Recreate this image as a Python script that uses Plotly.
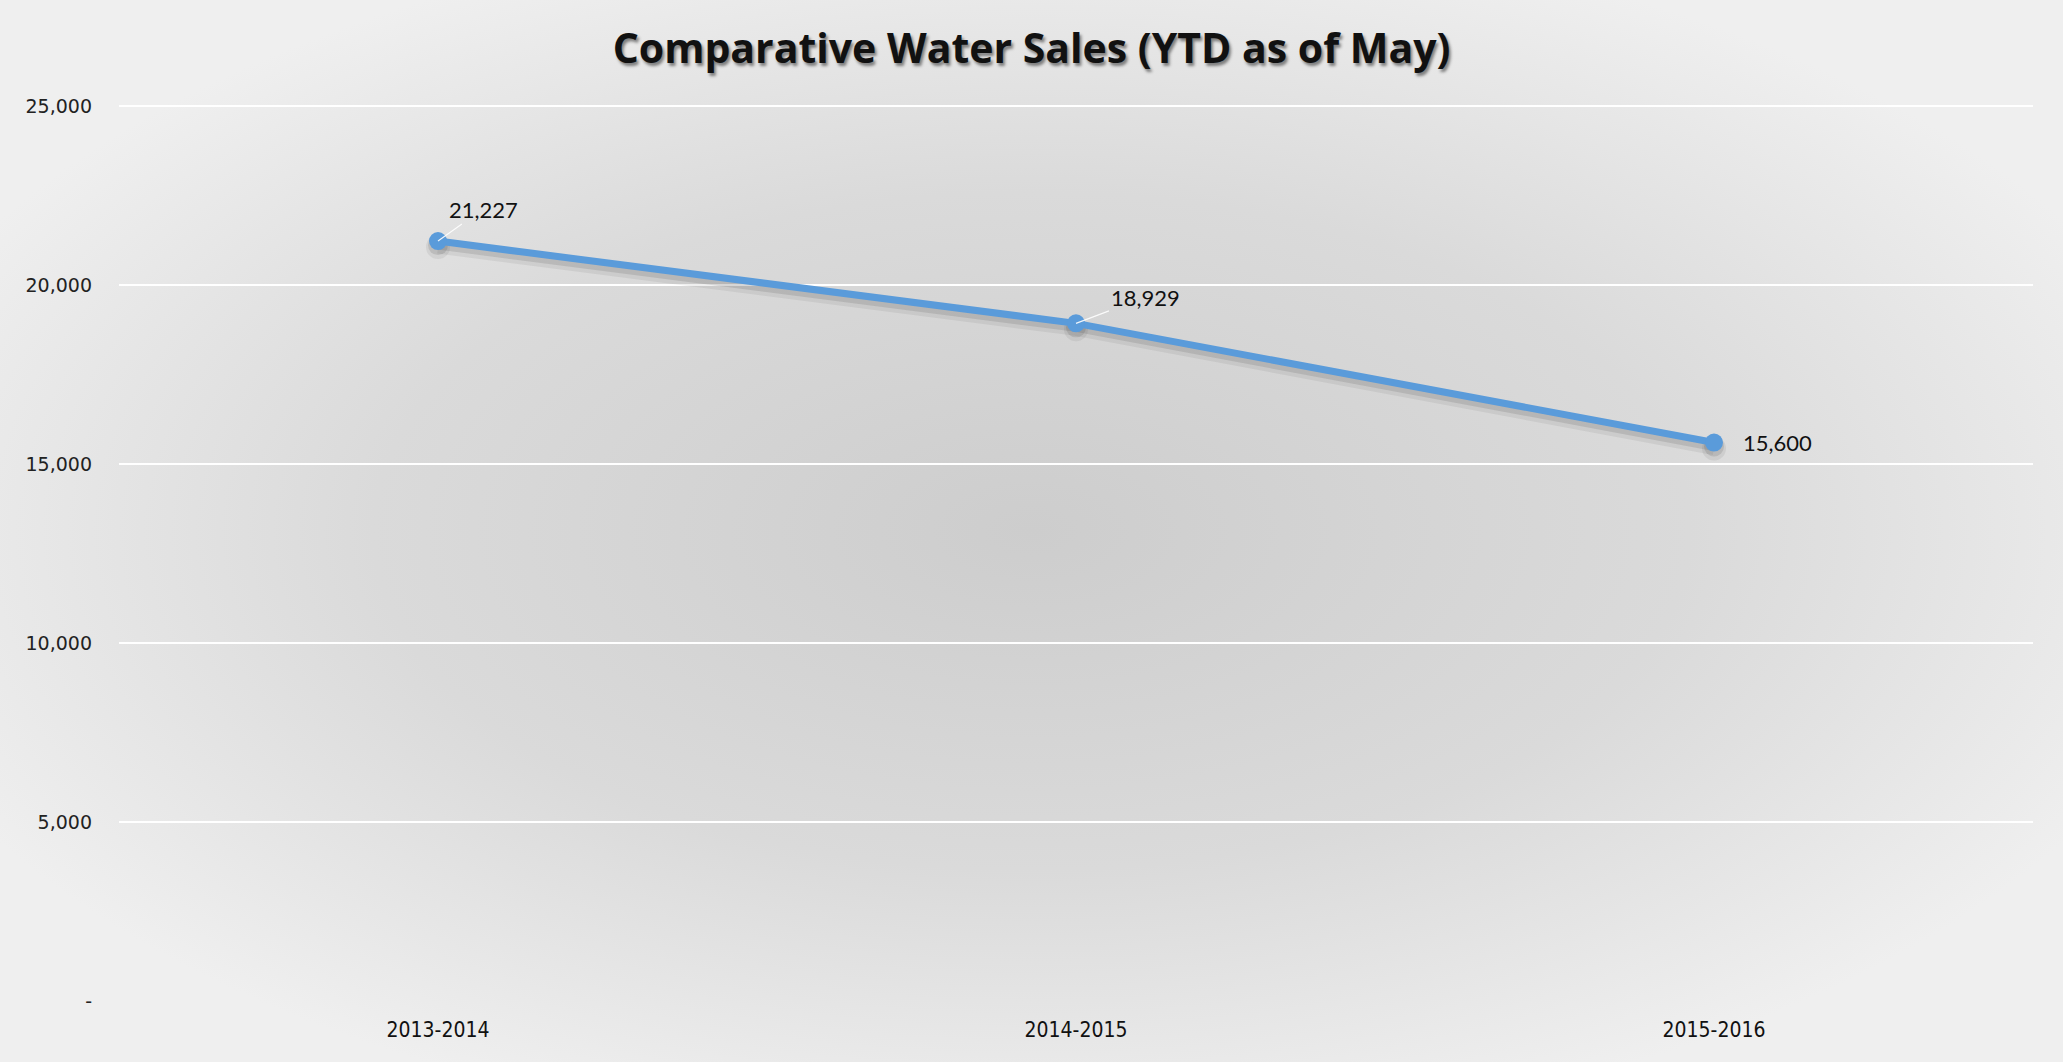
import base64
import plotly.graph_objects as go

# Water sales, year-to-date through May
seasons = ["2013-2014", "2014-2015", "2015-2016"]
sales = [21227, 18929, 15600]

y_tick_vals = [0, 5000, 10000, 15000, 20000, 25000]
y_tick_text = ["-", "5,000", "10,000", "15,000", "20,000", "25,000"]

W, H = 2063, 1062
M_L, M_R, M_T, M_B = 119, 30, 101, 61
plot_w = W - M_L - M_R
plot_h = H - M_T - M_B
Y_MAX = 25000
# leave 5px of headroom above the top tick so its gridline is drawn
Y_TOP = Y_MAX * plot_h / (plot_h - 5)

LINE_BLUE = "#5A9BDA"

# Soft radial grey backdrop behind the whole chart
svg = (
    "<svg xmlns='http://www.w3.org/2000/svg' width='2063' height='1062' "
    "preserveAspectRatio='none' viewBox='0 0 2063 1062'>"
    "<defs><radialGradient id='g' cx='50%' cy='50%' r='58%'>"
    "<stop offset='0' stop-color='#cdcdcd'/>"
    "<stop offset='0.55' stop-color='#dadada'/>"
    "<stop offset='1' stop-color='#efefef'/>"
    "</radialGradient></defs>"
    "<rect x='0' y='0' width='2063' height='1062' fill='url(#g)'/></svg>"
)
bg_uri = "data:image/svg+xml;base64," + base64.b64encode(svg.encode()).decode()

fig = go.Figure()

# Invisible copy on the base axes so the value axis and its grid are drawn
fig.add_trace(go.Scatter(
    x=seasons, y=sales, mode="lines",
    line=dict(color="rgba(0,0,0,0)", width=1),
    hoverinfo="skip", showlegend=False,
))

# Drop shadow for the line: same values on axes shifted a few pixels down
shadow_layers = [("y2", 6, 0.08, 6), ("y3", 4, 0.13, 2)]
for axis_name, px, alpha, extra in shadow_layers:
    fig.add_trace(go.Scatter(
        x=seasons, y=sales, mode="lines+markers", yaxis=axis_name,
        line=dict(color=f"rgba(50,50,50,{alpha})", width=7 + extra),
        marker=dict(size=18 + extra, color=f"rgba(50,50,50,{alpha})"),
        hoverinfo="skip", showlegend=False,
    ))

# Main series on the topmost overlay so it sits above its shadow
fig.add_trace(go.Scatter(
    x=seasons, y=sales, mode="lines+markers", yaxis="y4",
    line=dict(color=LINE_BLUE, width=7),
    marker=dict(size=18, color=LINE_BLUE),
    showlegend=False,
))

# Data labels
label_font = dict(family="Lato, Calibri, sans-serif", size=22, color="#111111")
offsets = [(45, -32, True), (69, -26, True), (63, 0, False)]
for s, v, (dx, dy, leader) in zip(seasons, sales, offsets):
    if leader:
        fig.add_annotation(
            x=s, y=v, text=f"{v:,}", showarrow=True, ax=dx, ay=dy,
            arrowhead=0, arrowwidth=1.2, arrowcolor="rgba(255,255,255,0.9)",
            standoff=0, font=label_font,
        )
    else:
        fig.add_annotation(
            x=s, y=v, text=f"{v:,}", showarrow=False,
            xshift=dx, yshift=-dy, font=label_font,
        )

overlay = dict(overlaying="y", visible=False, showgrid=False)
fig.update_layout(
    width=W, height=H,
    margin=dict(l=M_L, r=M_R, t=M_T, b=M_B),
    paper_bgcolor="#e2e2e2",
    plot_bgcolor="rgba(0,0,0,0)",
    title=dict(
        text="<b>Comparative Water Sales (YTD as of May)</b>",
        x=0.5, xref="container", xanchor="center",
        y=1 - 49 / H, yref="container", yanchor="middle",
        font=dict(family="Open Sans, sans-serif", size=41, color="#111111",
                  shadow="2px 3px 3px rgba(0,0,0,0.45)"),
    ),
    xaxis=dict(
        type="category", range=[-0.5, 2.5],
        showgrid=False, zeroline=False, showline=False, ticks="",
        tickfont=dict(family="DejaVu Sans Condensed, Liberation Sans Narrow, sans-serif",
                      size=21, color="#111111"),
        ticklabelstandoff=14,
    ),
    yaxis=dict(
        range=[0, Y_TOP], tickvals=y_tick_vals, ticktext=y_tick_text,
        showgrid=True, gridcolor="#ffffff", gridwidth=2,
        zeroline=False, showline=False, ticks="",
        tickfont=dict(family="DejaVu Sans, sans-serif", size=19, color="#222222"),
        ticklabelstandoff=26,
    ),
    yaxis2=dict(range=[6 * Y_TOP / plot_h, Y_TOP + 6 * Y_TOP / plot_h], **overlay),
    yaxis3=dict(range=[4 * Y_TOP / plot_h, Y_TOP + 4 * Y_TOP / plot_h], **overlay),
    yaxis4=dict(range=[0, Y_TOP], **overlay),
    images=[dict(
        source=bg_uri, xref="paper", yref="paper",
        x=-M_L / plot_w, y=1 + M_T / plot_h,
        sizex=W / plot_w, sizey=H / plot_h,
        xanchor="left", yanchor="top", sizing="stretch", layer="below",
    )],
)

fig.write_html("out.html")
